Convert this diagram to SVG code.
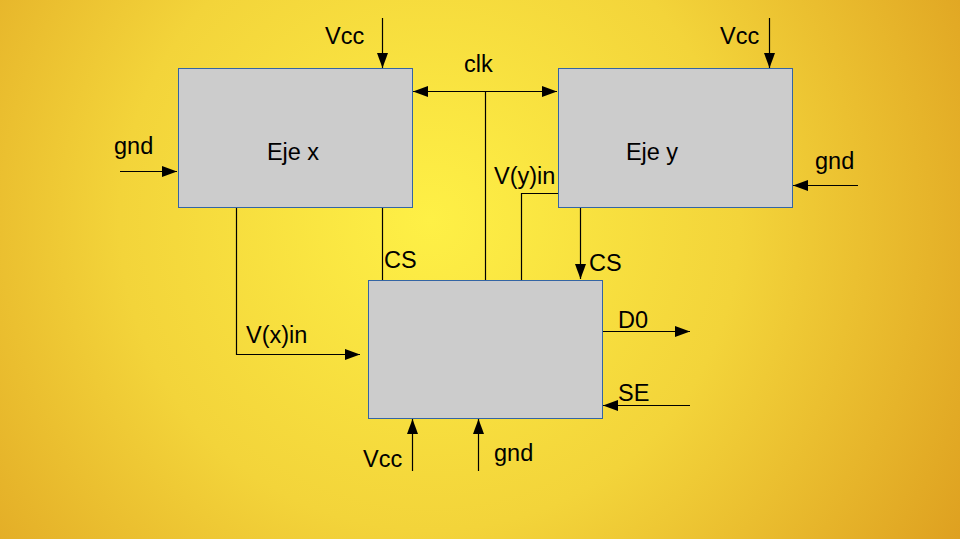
<svg xmlns="http://www.w3.org/2000/svg" width="960" height="539" viewBox="0 0 960 539">
<defs>
<radialGradient id="bg" cx="430" cy="220" r="620" gradientUnits="userSpaceOnUse">
<stop offset="0" stop-color="#fef046"/>
<stop offset="0.5" stop-color="#f3d43a"/>
<stop offset="1" stop-color="#dea020"/>
</radialGradient>
<marker id="ah" viewBox="0 0 15 11" refX="15" refY="5.5" markerWidth="15" markerHeight="11" markerUnits="userSpaceOnUse" orient="auto-start-reverse">
<path d="M0,0 L15,5.5 L0,11 Z" fill="#000"/>
</marker>
</defs>
<style>
.box{fill:#cccccc;stroke:#3465a4;stroke-width:1}
.ln{fill:none;stroke:#000;stroke-width:1.2}
text{font-family:"Liberation Sans",Arial,sans-serif;font-size:23.5px;fill:#000}
</style>
<rect width="960" height="539" fill="url(#bg)"/>
<g id="connectors">
<line class="ln" x1="382.5" y1="18" x2="382.5" y2="68" marker-end="url(#ah)"/>
<line class="ln" x1="769.5" y1="18" x2="769.5" y2="68" marker-end="url(#ah)"/>
<line class="ln" x1="120" y1="171.5" x2="177" y2="171.5" marker-end="url(#ah)"/>
<line class="ln" x1="858" y1="185.5" x2="793" y2="185.5" marker-end="url(#ah)"/>
<line class="ln" x1="413" y1="91.5" x2="557" y2="91.5" marker-start="url(#ah)" marker-end="url(#ah)"/>
<line class="ln" x1="485.5" y1="91.5" x2="485.5" y2="280"/>
<polyline class="ln" points="558,193.5 521.5,193.5 521.5,280"/>
<line class="ln" x1="382.5" y1="207" x2="382.5" y2="280"/>
<line class="ln" x1="580.5" y1="207" x2="580.5" y2="279" marker-end="url(#ah)"/>
<polyline class="ln" points="236.5,207 236.5,354.5 360,354.5" marker-end="url(#ah)"/>
<line class="ln" x1="603" y1="331.5" x2="690" y2="331.5" marker-end="url(#ah)"/>
<line class="ln" x1="690" y1="405.5" x2="603" y2="405.5" marker-end="url(#ah)"/>
<line class="ln" x1="412.5" y1="471" x2="412.5" y2="419" marker-end="url(#ah)"/>
<line class="ln" x1="478.5" y1="471" x2="478.5" y2="419" marker-end="url(#ah)"/>
</g>
<g id="ejex">
<rect class="box" x="178.5" y="68.5" width="234" height="139"/>
<text x="293" y="160" text-anchor="middle">Eje x</text>
</g>
<g id="ejey">
<rect class="box" x="558.5" y="68.5" width="234" height="139"/>
<text x="652" y="160" text-anchor="middle">Eje y</text>
</g>
<g id="adc">
<rect class="box" x="368.5" y="280.5" width="234" height="138"/>
</g>
<g id="labels">
<text x="325" y="44">Vcc</text>
<text x="720" y="44">Vcc</text>
<text x="464" y="72">clk</text>
<text x="114" y="154">gnd</text>
<text x="815" y="169">gnd</text>
<text x="494" y="184">V(y)in</text>
<text x="384" y="268">CS</text>
<text x="589" y="271">CS</text>
<text x="246" y="343">V(x)in</text>
<text x="618" y="328">D0</text>
<text x="618" y="401">SE</text>
<text x="363" y="467">Vcc</text>
<text x="494" y="461">gnd</text>
</g>
</svg>
